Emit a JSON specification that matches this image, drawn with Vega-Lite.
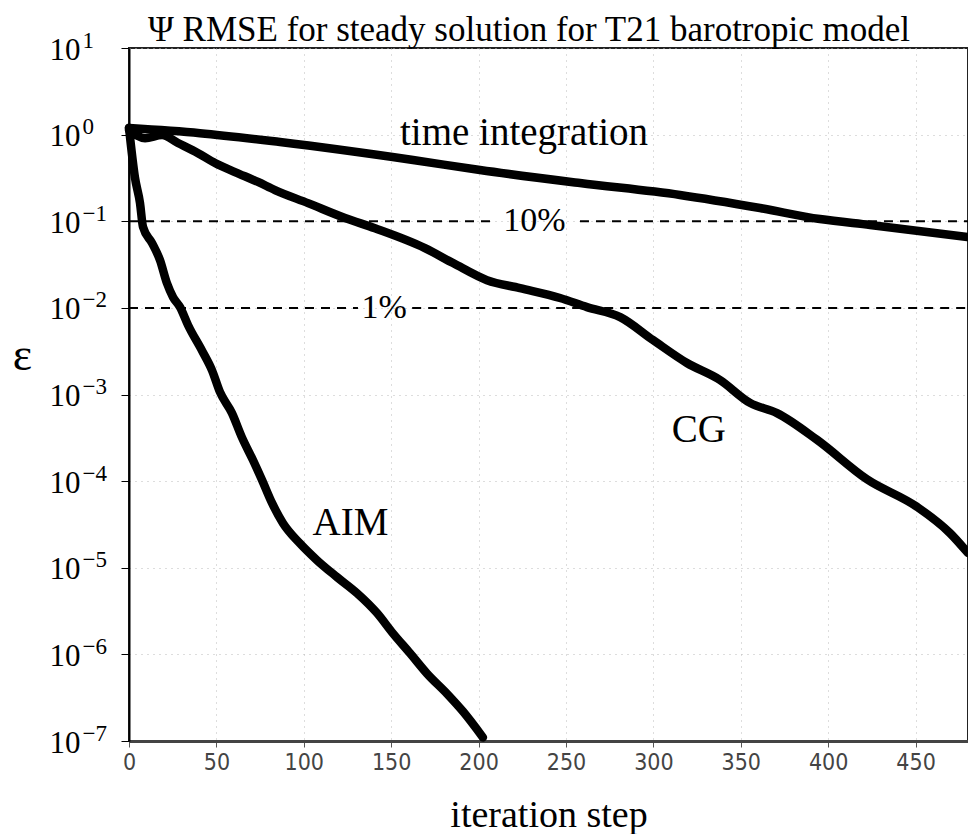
{
  "$schema": "https://vega.github.io/schema/vega-lite/v6.json",
  "width": 839,
  "height": 693,
  "autosize": {"type": "none"},
  "padding": {"left": 129, "top": 48, "right": 0, "bottom": 93},
  "background": "white",
  "title": {
    "text": "Ψ RMSE for steady solution for T21 barotropic model",
    "font": "Liberation Serif",
    "fontSize": 35,
    "fontWeight": "normal",
    "color": "black",
    "anchor": "start",
    "frame": "group",
    "dx": 19,
    "dy": 27,
    "offset": 8
  },
  "config": {"view": {"stroke": "#222", "strokeWidth": 2}},
  "resolve": {"axis": {"y": "independent"}},
  "datasets": {
    "curves": [
      {"series": "time integration", "x": 0, "y": 1.19},
      {"series": "time integration", "x": 40.6, "y": 1.04},
      {"series": "time integration", "x": 86.4, "y": 0.82},
      {"series": "time integration", "x": 162.5, "y": 0.509},
      {"series": "time integration", "x": 200.8, "y": 0.39},
      {"series": "time integration", "x": 258, "y": 0.276},
      {"series": "time integration", "x": 315.2, "y": 0.201},
      {"series": "time integration", "x": 361, "y": 0.142},
      {"series": "time integration", "x": 395.3, "y": 0.106},
      {"series": "time integration", "x": 424, "y": 0.0905},
      {"series": "time integration", "x": 480, "y": 0.0658},
      {"series": "CG", "x": 0, "y": 1.13},
      {"series": "CG", "x": 9.2, "y": 0.91},
      {"series": "CG", "x": 18.9, "y": 0.99},
      {"series": "CG", "x": 28, "y": 0.8},
      {"series": "CG", "x": 39.5, "y": 0.61},
      {"series": "CG", "x": 49.2, "y": 0.47},
      {"series": "CG", "x": 60.6, "y": 0.37},
      {"series": "CG", "x": 73.8, "y": 0.284},
      {"series": "CG", "x": 83.5, "y": 0.229},
      {"series": "CG", "x": 102.4, "y": 0.162},
      {"series": "CG", "x": 123.6, "y": 0.109},
      {"series": "CG", "x": 140.7, "y": 0.083},
      {"series": "CG", "x": 169.3, "y": 0.049},
      {"series": "CG", "x": 185.4, "y": 0.0329},
      {"series": "CG", "x": 204.8, "y": 0.0209},
      {"series": "CG", "x": 223.7, "y": 0.0169},
      {"series": "CG", "x": 246.6, "y": 0.013},
      {"series": "CG", "x": 262, "y": 0.0102},
      {"series": "CG", "x": 281, "y": 0.00783},
      {"series": "CG", "x": 299.8, "y": 0.00425},
      {"series": "CG", "x": 319.2, "y": 0.00231},
      {"series": "CG", "x": 338.1, "y": 0.00147},
      {"series": "CG", "x": 355.3, "y": 0.0008},
      {"series": "CG", "x": 370.7, "y": 0.00061},
      {"series": "CG", "x": 393.6, "y": 0.0003},
      {"series": "CG", "x": 422.2, "y": 0.000105},
      {"series": "CG", "x": 450.8, "y": 0.0000505},
      {"series": "CG", "x": 469.7, "y": 0.0000251},
      {"series": "CG", "x": 480, "y": 0.0000148},
      {"series": "AIM", "x": 0, "y": 1.2},
      {"series": "AIM", "x": 3.4, "y": 0.32},
      {"series": "AIM", "x": 6.3, "y": 0.162},
      {"series": "AIM", "x": 8, "y": 0.086},
      {"series": "AIM", "x": 13.2, "y": 0.056},
      {"series": "AIM", "x": 17.7, "y": 0.0357},
      {"series": "AIM", "x": 21.7, "y": 0.0193},
      {"series": "AIM", "x": 25.2, "y": 0.0133},
      {"series": "AIM", "x": 29.2, "y": 0.0102},
      {"series": "AIM", "x": 33.8, "y": 0.0063},
      {"series": "AIM", "x": 41.8, "y": 0.0032},
      {"series": "AIM", "x": 47.5, "y": 0.0019},
      {"series": "AIM", "x": 52, "y": 0.00107},
      {"series": "AIM", "x": 58.9, "y": 0.00061},
      {"series": "AIM", "x": 64.6, "y": 0.00032},
      {"series": "AIM", "x": 70.9, "y": 0.000175},
      {"series": "AIM", "x": 76.1, "y": 0.000103},
      {"series": "AIM", "x": 81.8, "y": 0.000056},
      {"series": "AIM", "x": 88.1, "y": 0.0000327},
      {"series": "AIM", "x": 97.8, "y": 0.0000191},
      {"series": "AIM", "x": 107.6, "y": 0.0000122},
      {"series": "AIM", "x": 119, "y": 0.0000078},
      {"series": "AIM", "x": 130.4, "y": 0.0000051},
      {"series": "AIM", "x": 141.9, "y": 0.000003},
      {"series": "AIM", "x": 151, "y": 0.00000175},
      {"series": "AIM", "x": 160.8, "y": 0.00000103},
      {"series": "AIM", "x": 170.5, "y": 0.0000006},
      {"series": "AIM", "x": 182, "y": 0.00000035},
      {"series": "AIM", "x": 191, "y": 0.00000022},
      {"series": "AIM", "x": 202.5, "y": 0.00000011}
    ],
    "refs": [
      {"y": 0.1, "x": 0, "x2": 209},
      {"y": 0.1, "x": 258, "x2": 480},
      {"y": 0.01, "x": 0, "x2": 131},
      {"y": 0.01, "x": 162, "x2": 480}
    ],
    "bigLabels": [
      {"label": "time integration", "x": 226, "y": 1.04},
      {"label": "CG", "x": 326, "y": 0.00039},
      {"label": "AIM", "x": 126.7, "y": 0.0000327}
    ],
    "smallLabels": [
      {"label": "10%", "x": 232, "y": 0.1},
      {"label": "1%", "x": 146, "y": 0.01}
    ]
  },
  "encoding": {
    "x": {
      "field": "x",
      "type": "quantitative",
      "scale": {"domain": [0, 480], "nice": false, "zero": false},
      "axis": {
        "values": [0, 50, 100, 150, 200, 250, 300, 350, 400, 450],
        "title": "iteration step",
        "titleFont": "Liberation Serif",
        "titleFontSize": 38,
        "titleFontWeight": "normal",
        "titleColor": "black",
        "titlePadding": 22,
        "labelFont": "DejaVu Sans Condensed",
        "labelFontSize": 23,
        "labelColor": "#444",
        "labelPadding": 4,
        "labelFlush": false,
        "tickSize": 6,
        "tickColor": "#555",
        "domainColor": "#444",
        "domainWidth": 3,
        "grid": true,
        "gridColor": "#bbb",
        "gridDash": [1, 5]
      }
    }
  },
  "layer": [
    {
      "data": {"name": "refs"},
      "mark": {"type": "rule", "color": "black", "strokeWidth": 2, "strokeDash": [9, 7]},
      "encoding": {
        "x2": {"field": "x2"},
        "y": {
          "field": "y",
          "type": "quantitative",
          "scale": {"type": "log", "domain": [1e-7, 10], "nice": false},
          "axis": {
            "orient": "left",
            "values": [1e-7, 1e-6, 1e-5, 1e-4, 1e-3, 1e-2, 1e-1, 1, 10],
            "labelExpr": "'10'",
            "labelFont": "Liberation Serif",
            "labelFontSize": 31,
            "labelColor": "black",
            "labelPadding": 41,
            "labelOffset": 2,
            "tickSize": 8,
            "tickColor": "black",
            "domainColor": "black",
            "domainWidth": 2,
            "grid": true,
            "gridColor": "#bbb",
            "gridDash": [1, 5],
            "title": "ε",
            "titleAngle": 0,
            "titleFont": "Liberation Serif",
            "titleFontSize": 46,
            "titleFontWeight": "normal",
            "titleColor": "black",
            "titleX": -107,
            "titleY": 307,
            "titleAlign": "center",
            "titleBaseline": "middle"
          }
        }
      }
    },
    {
      "data": {"name": "curves"},
      "mark": {"type": "line", "color": "black", "strokeWidth": 8.5, "strokeCap": "round", "strokeJoin": "round", "interpolate": "monotone"},
      "encoding": {
        "detail": {"field": "series"},
        "y": {
          "field": "y",
          "type": "quantitative",
          "scale": {"type": "log", "domain": [1e-7, 10], "nice": false},
          "axis": null
        }
      }
    },
    {
      "data": {"name": "bigLabels"},
      "mark": {"type": "text", "font": "Liberation Serif", "fontSize": 39, "color": "black", "align": "center", "baseline": "middle"},
      "encoding": {
        "text": {"field": "label"},
        "y": {
          "field": "y",
          "type": "quantitative",
          "scale": {"type": "log", "domain": [1e-7, 10], "nice": false},
          "axis": null
        }
      }
    },
    {
      "data": {"name": "smallLabels"},
      "mark": {"type": "text", "font": "Liberation Serif", "fontSize": 34, "color": "black", "align": "center", "baseline": "middle"},
      "encoding": {
        "text": {"field": "label"},
        "y": {
          "field": "y",
          "type": "quantitative",
          "scale": {"type": "log", "domain": [1e-7, 10], "nice": false},
          "axis": {
            "orient": "left",
            "values": [1e-7, 1e-6, 1e-5, 1e-4, 1e-3, 1e-2, 1e-1, 1, 10],
            "labelExpr": "format(log(datum.value) / LN10, '.0f')",
            "labelFont": "Liberation Serif",
            "labelFontSize": 23,
            "labelColor": "black",
            "labelAlign": "left",
            "labelPadding": 39,
            "labelOffset": -8,
            "tickSize": 8,
            "tickOpacity": 0,
            "domain": false,
            "grid": false,
            "title": null
          }
        }
      }
    }
  ]
}
